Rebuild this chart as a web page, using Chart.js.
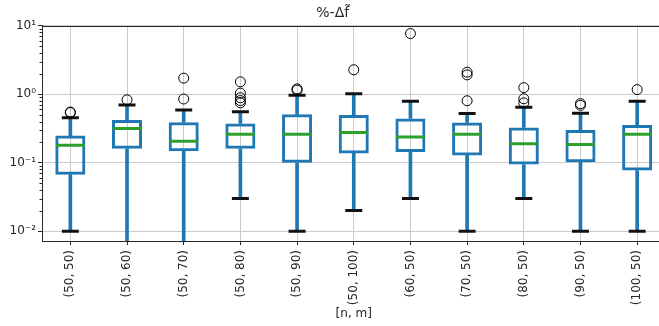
<!DOCTYPE html>
<html>
<head>
<meta charset="utf-8">
<script src="https://cdn.jsdelivr.net/npm/chart.js@4/dist/chart.umd.min.js"></script>
<style>
  html, body { margin: 0; padding: 0; background: #fff; overflow: hidden; }
  #wrap { width: 708px; height: 326px; position: relative; }
</style>
</head>
<body>
<div id="wrap"><canvas id="c"></canvas></div>
<script>
// Parameter pairs [n, m]
const categories = ['(50, 50)', '(50, 60)', '(50, 70)', '(50, 80)', '(50, 90)', '(50, 100)',
                    '(60, 50)', '(70, 50)', '(80, 50)', '(90, 50)', '(100, 50)'];

// Box-plot statistics of %-Δf̃ per pair
const whiskerLow  = [0.010, 0.001, 0.001, 0.030, 0.010, 0.020, 0.030, 0.010, 0.030, 0.010, 0.010];
const q1          = [0.067, 0.160, 0.147, 0.160, 0.100, 0.137, 0.143, 0.128, 0.094, 0.102, 0.077];
const median      = [0.180, 0.316, 0.206, 0.260, 0.260, 0.276, 0.238, 0.260, 0.190, 0.184, 0.260];
const q3          = [0.249, 0.420, 0.390, 0.374, 0.510, 0.500, 0.444, 0.388, 0.327, 0.300, 0.357];
const whiskerHigh = [0.453, 0.700, 0.587, 0.555, 0.970, 1.020, 0.790, 0.525, 0.644, 0.530, 0.790];
const outliers = [
  [0.54, 0.55],
  [0.83],
  [0.853, 1.72],
  [0.75, 0.81, 0.89, 1.04, 1.52],
  [1.15, 1.20],
  [2.28],
  [7.7],
  [0.805, 1.92, 2.10],
  [0.75, 0.86, 1.25],
  [0.69, 0.73],
  [1.17]
];

// Log axis: labelled decades plus unlabelled 2..9 minor steps
const yMin = 0.0072, yMax = 10;
const decades = [-2, -1, 0, 1];

const BLUE = '#1f77b4', GREEN = '#2ca02c', INK = '#262626', GRID = '#cbcbcb';
const FONT = "'DejaVu Sans', sans-serif";

const supMap = {'-': '\u207B', '0': '\u2070', '1': '\u00B9', '2': '\u00B2', '3': '\u00B3'};
const powLabel = e => '10' + String(e).split('').map(c => supMap[c]).join('');

const flierPoints = [];
outliers.forEach((list, i) => list.forEach(v => flierPoints.push({x: categories[i], y: v})));

// Top spine and minor tick marks on the log axis
const framePlugin = {
  id: 'frame',
  afterDraw(chart) {
    const {ctx, chartArea, scales} = chart;
    const y = scales.y;
    ctx.save();
    ctx.strokeStyle = INK;
    ctx.lineWidth = 1;
    ctx.beginPath();
    const top = Math.round(chartArea.top) + 0.5;
    ctx.moveTo(chartArea.left, top);
    ctx.lineTo(chartArea.right, top);
    y.ticks.forEach(t => {
      if (t.major) return;
      const py = Math.round(y.getPixelForValue(t.value)) + 0.5;
      ctx.moveTo(chartArea.left - 2.5, py);
      ctx.lineTo(chartArea.left, py);
    });
    ctx.stroke();
    ctx.restore();
  }
};

new Chart(document.getElementById('c'), {
  type: 'bar',
  data: {
    labels: categories,
    datasets: [
      {
        label: 'box',
        data: q1.map((v, i) => [v, q3[i]]),
        backgroundColor: 'rgba(0,0,0,0)',
        borderColor: BLUE,
        borderWidth: 3,
        borderSkipped: false,
        grouped: false,
        barPercentage: 0.53,
        categoryPercentage: 1,
        order: 4
      },
      {
        label: 'lower whisker',
        data: whiskerLow.map((v, i) => [v, q1[i]]),
        backgroundColor: BLUE,
        borderWidth: 0,
        grouped: false,
        barThickness: 3,
        order: 3
      },
      {
        label: 'upper whisker',
        data: q3.map((v, i) => [v, whiskerHigh[i]]),
        backgroundColor: BLUE,
        borderWidth: 0,
        grouped: false,
        barThickness: 3,
        order: 3
      },
      {
        type: 'line',
        label: 'lower cap',
        data: whiskerLow,
        showLine: false,
        pointStyle: 'line',
        pointRadius: 8.5,
        pointBorderWidth: 3,
        pointBorderColor: '#111',
        order: 2
      },
      {
        type: 'line',
        label: 'upper cap',
        data: whiskerHigh,
        showLine: false,
        pointStyle: 'line',
        pointRadius: 8.5,
        pointBorderWidth: 3,
        pointBorderColor: '#111',
        order: 2
      },
      {
        type: 'line',
        label: 'median',
        data: median,
        showLine: false,
        pointStyle: 'line',
        pointRadius: 14.5,
        pointBorderWidth: 3,
        pointBorderColor: GREEN,
        order: 1
      },
      {
        type: 'line',
        label: 'outliers',
        data: flierPoints,
        showLine: false,
        pointStyle: 'circle',
        pointRadius: 5,
        pointBorderWidth: 1,
        pointBorderColor: '#000',
        pointBackgroundColor: 'rgba(0,0,0,0)',
        order: 0
      }
    ]
  },
  options: {
    responsive: true,
    maintainAspectRatio: false,
    animation: false,
    events: [],
    layout: { padding: { left: 0, right: 42.5, top: 0, bottom: 4 } },
    plugins: {
      legend: { display: false },
      tooltip: { enabled: false },
      title: {
        display: true,
        text: '%-\u0394f\u0303',
        color: INK,
        font: { family: FONT, size: 14, weight: 'normal' },
        padding: { top: 5, bottom: 4 }
      }
    },
    scales: {
      x: {
        offset: true,
        grid: { offset: false, color: GRID, lineWidth: 1, tickColor: INK, tickLength: 4 },
        border: { display: true, color: INK, width: 1 },
        ticks: {
          color: INK,
          font: { family: FONT, size: 12 },
          minRotation: 90,
          maxRotation: 90,
          autoSkip: false,
          padding: 5
        },
        title: {
          display: true,
          text: '[n, m]',
          color: INK,
          font: { family: FONT, size: 12 },
          padding: { top: 0, bottom: 1 }
        },
        afterFit(scale) { scale.height = 81; }
      },
      y: {
        type: 'logarithmic',
        min: yMin,
        max: yMax,
        afterBuildTicks(scale) {
          const ticks = [];
          decades.forEach(e => {
            for (let k = 1; k <= 9; k++) {
              const v = k * Math.pow(10, e);
              if (v >= yMin && v <= yMax * 1.0001) ticks.push({ value: v, major: k === 1, exp: e });
            }
          });
          scale.ticks = ticks;
        },
        grid: {
          color: ctx => (ctx.tick && ctx.tick.major) ? GRID : 'rgba(0,0,0,0)',
          tickColor: ctx => (ctx.tick && ctx.tick.major) ? INK : 'rgba(0,0,0,0)',
          tickLength: 4,
          lineWidth: 1
        },
        border: { display: true, color: INK, width: 1 },
        ticks: {
          autoSkip: false,
          color: INK,
          padding: 2,
          font: { family: FONT, size: 12 },
          callback(value, index, ticks) {
            const t = ticks[index];
            return t.major ? powLabel(Math.round(Math.log10(value))) : '';
          }
        },
        afterFit(scale) { scale.width = 42; }
      }
    }
  },
  plugins: [framePlugin]
});
</script>
</body>
</html>
